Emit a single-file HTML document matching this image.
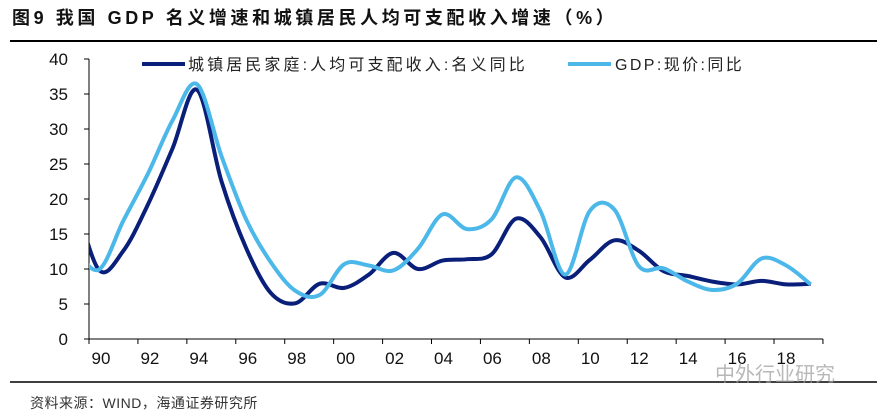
<!DOCTYPE html>
<html><head><meta charset="utf-8"><style>
body{margin:0;background:#fff;}
svg{display:block;font-family:"Liberation Sans","Noto Sans CJK SC",sans-serif;}
</style></head><body>
<svg width="877" height="415" viewBox="0 0 877 415">
<text x="12" y="24" font-size="18" font-weight="bold" letter-spacing="3.6" fill="#111">图9  我国 GDP 名义增速和城镇居民人均可支配收入增速（%）</text>
<line x1="10" y1="41" x2="877" y2="41" stroke="#000" stroke-width="2"/>
<line x1="10" y1="382" x2="877" y2="382" stroke="#000" stroke-width="1.5"/>
<text x="30" y="408" font-size="14" letter-spacing="0.5" fill="#333">资料来源：WIND，海通证券研究所</text>
<text x="715" y="381" font-size="20" fill="#999" opacity="0.7">中外行业研究</text>
<g id="axes"></g>
<defs><clipPath id="plot"><rect x="89" y="40" width="740" height="300"/></clipPath></defs>
<g id="series" clip-path="url(#plot)"></g>
<g id="legend">
<line x1="142" y1="64" x2="185" y2="64" stroke="#0a1f7a" stroke-width="4"/>
<text x="188" y="70" font-size="16" letter-spacing="3.1" fill="#222">城镇居民家庭:人均可支配收入:名义同比</text>
<line x1="568" y1="64" x2="611" y2="64" stroke="#4cb8ea" stroke-width="4"/>
<text x="615" y="70" font-size="16" letter-spacing="2.4" fill="#222">GDP:现价:同比</text>
</g>
</svg>
<script>
const years=[1989,1990,1991,1992,1993,1994,1995,1996,1997,1998,1999,2000,2001,2002,2003,2004,2005,2006,2007,2008,2009,2010,2011,2012,2013,2014,2015,2016,2017,2018,2019];
const incomeValues=[20.5,9.9,12.6,19.2,27.2,35.6,22.5,13.0,6.6,5.1,7.9,7.3,9.2,12.3,10.0,11.2,11.4,12.1,17.2,14.5,8.8,11.3,14.1,12.6,9.7,9.0,8.2,7.8,8.3,7.8,7.9];
const gdpValues=[13.0,9.9,16.9,23.6,31.2,36.4,26.1,17.1,11.0,6.9,6.3,10.7,10.5,9.8,12.9,17.8,15.7,17.1,23.1,18.2,9.2,18.3,18.5,10.4,10.1,8.2,7.0,7.9,11.5,10.5,7.8];
const yTicks=[0,5,10,15,20,25,30,35,40];
const xTickLabels=["90","92","94","96","98","00","02","04","06","08","10","12","14","16","18"];
const NS="http://www.w3.org/2000/svg";
const xS=y=>197+(y-1994)*24.55;
const yS=v=>339-v*7;
function mk(tag,attrs,parent){const e=document.createElementNS(NS,tag);for(const k in attrs)e.setAttribute(k,attrs[k]);parent.appendChild(e);return e;}
const axes=document.getElementById('axes');
let a=mk('line',{x1:89,y1:59,x2:89,y2:339,stroke:'#000','stroke-width':1},axes);


a=mk('line',{x1:89,y1:339,x2:823,y2:339,stroke:'#000','stroke-width':1},axes);


yTicks.forEach(t=>{
 const l=mk('line',{x1:84,y1:yS(t),x2:89,y2:yS(t),stroke:'#000'},axes);
 
 
 const tx=mk('text',{x:68,y:yS(t)+6,'font-size':17,'text-anchor':'end',fill:'#111'},axes);
 tx.textContent=t;
 
 
});
for(let i=0;i<=15;i++){
 const x=89+i*48.93;
 const l=mk('line',{x1:x,y1:339,x2:x,y2:344,stroke:'#000'},axes);
 
 
}
xTickLabels.forEach((s,i)=>{
 const tx=mk('text',{x:101+i*48.93,y:364,'font-size':17,'text-anchor':'middle',fill:'#111'},axes);
 tx.textContent=s;
 
 
});
function smooth(pts){
 let d=`M${pts[0][0]},${pts[0][1]}`;
 for(let i=0;i<pts.length-1;i++){
  const p0=pts[Math.max(0,i-1)],p1=pts[i],p2=pts[i+1],p3=pts[Math.min(pts.length-1,i+2)];
  const c1=[p1[0]+(p2[0]-p0[0])/6,p1[1]+(p2[1]-p0[1])/6];
  const c2=[p2[0]-(p3[0]-p1[0])/6,p2[1]-(p3[1]-p1[1])/6];
  d+=` C${c1[0]},${c1[1]} ${c2[0]},${c2[1]} ${p2[0]},${p2[1]}`;
 }
 return d;
}
const sg=document.getElementById('series');
let p=mk('path',{d:smooth(years.map((y,i)=>[xS(y),yS(incomeValues[i])])),fill:'none',stroke:'#0a1f7a','stroke-width':4,'stroke-linejoin':'round'},sg);


p=mk('path',{d:smooth(years.map((y,i)=>[xS(y),yS(gdpValues[i])])),fill:'none',stroke:'#4cb8ea','stroke-width':4,'stroke-linejoin':'round'},sg);


</script>
</body></html>
